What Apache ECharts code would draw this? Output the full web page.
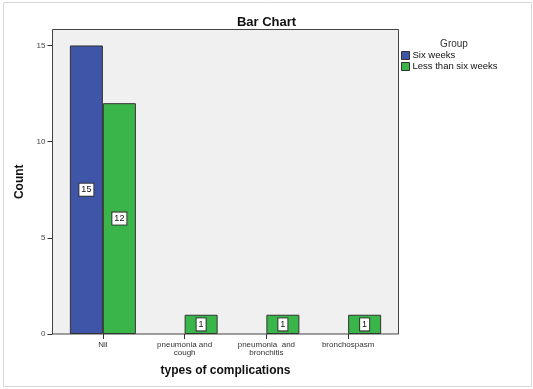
<!DOCTYPE html>
<html>
<head>
<meta charset="utf-8">
<script src="https://cdn.jsdelivr.net/npm/echarts@6/dist/echarts.min.js"></script>
<style>html,body{margin:0;padding:0;background:#fff}#c{width:533px;height:389px}</style>
</head>
<body>
<div id="c"></div>
<script>
const categories = ['Nil', 'pneumonia and\ncough', 'pneumonia  and\nbronchitis', 'bronchospasm'];
const seriesNames = ['Six weeks', 'Less than six weeks'];
const sixWeeks = [15, 0, 0, 0];
const lessThanSixWeeks = [12, 1, 1, 1];
const yTicks = [0, 5, 10, 15];

const FONT = 'Liberation Sans, Arial, sans-serif';
const chart = echarts.init(document.getElementById('c'), null, {renderer: 'canvas'});

const labelStyle = {
  show: true,
  position: 'inside',
  fontSize: 9,
  fontFamily: FONT,
  color: '#111',
  backgroundColor: '#fff',
  borderColor: '#333',
  borderWidth: 1,
  padding: [2, 2, 1, 2]
};

function toData(arr) { return arr.map(v => v === 0 ? null : v); }

chart.setOption({
  animation: false,
  textStyle: {fontFamily: FONT},
  title: [
    {text: 'Bar Chart', left: 'center', top: 11,
     textStyle: {fontSize: 13, fontWeight: 'bold', color: '#111', fontFamily: FONT}},
    {text: 'Group', left: 449, top: 34, textAlign: 'center',
     textStyle: {fontSize: 10, fontWeight: 'normal', color: '#333', fontFamily: FONT}}
  ],
  legend: {
    orient: 'vertical',
    left: 401,
    top: 50,
    itemWidth: 8,
    itemHeight: 8,
    itemGap: 0,
    padding: 0,
    icon: 'rect',
    itemStyle: {borderColor: '#333', borderWidth: 1},
    textStyle: {fontSize: 9.5, color: '#111', fontFamily: FONT, lineHeight: 11, padding: [0, 0, 0, -2]},
    data: seriesNames
  },
  graphic: [
    {type: 'rect', z: -20, silent: true,
     shape: {x: 3.5, y: 2.5, width: 528, height: 384},
     style: {fill: 'none', stroke: '#d8d8d8', lineWidth: 1}},
    {type: 'rect', z: -10, silent: true,
     shape: {x: 52.5, y: 29.5, width: 346, height: 304.5},
     style: {fill: '#f0f0f0', stroke: '#444', lineWidth: 1}}
  ],
  grid: {left: 62, right: 144, top: 29.5, bottom: 55, containLabel: false},
  xAxis: {
    type: 'category',
    data: categories,
    name: 'types of complications',
    nameLocation: 'middle',
    nameGap: 31,
    nameTextStyle: {fontSize: 12, fontWeight: 'bold', color: '#111', fontFamily: FONT},
    axisLine: {show: false},
    axisTick: {show: true, alignWithLabel: true, length: 5, lineStyle: {color: '#333'}},
    axisLabel: {interval: 0, fontSize: 8, color: '#333', margin: 7, lineHeight: 8, fontFamily: FONT}
  },
  yAxis: {
    type: 'value',
    min: 0,
    max: 15.83,
    offset: 9.5,
    name: 'Count',
    nameLocation: 'middle',
    nameGap: 24,
    nameTextStyle: {fontSize: 12, fontWeight: 'bold', color: '#111', fontFamily: FONT},
    axisLine: {show: false},
    splitLine: {show: false},
    axisTick: {show: true, length: 5, lineStyle: {color: '#333'}, customValues: yTicks},
    axisLabel: {fontSize: 8, color: '#444', margin: 7, fontFamily: FONT, customValues: yTicks}
  },
  series: [
    {name: seriesNames[0], type: 'bar', data: toData(sixWeeks), barWidth: 33, barGap: '0%',
     itemStyle: {color: '#3e55a8', borderColor: '#333', borderWidth: 1},
     label: labelStyle},
    {name: seriesNames[1], type: 'bar', data: toData(lessThanSixWeeks), barWidth: 33, barGap: '0%',
     itemStyle: {color: '#3ab54a', borderColor: '#333', borderWidth: 1},
     label: labelStyle}
  ]
});
</script>
</body>
</html>
